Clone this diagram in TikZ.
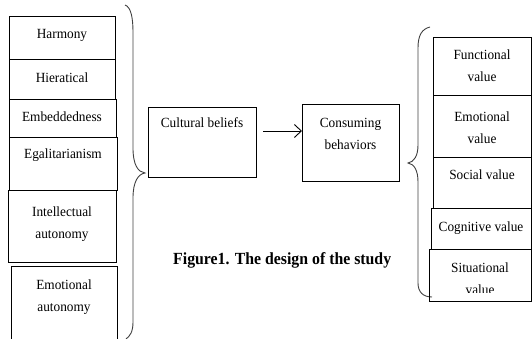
\documentclass[tikz,border=0pt]{standalone}
\usepackage{fontspec}
\setmainfont{Liberation Serif}[FakeStretch=0.95]
\newfontfamily\capfont{Liberation Serif}[FakeStretch=0.93]
\usetikzlibrary{arrows.meta}
\tikzset{
  box/.style={draw=black, line width=0.9pt, inner sep=0pt, anchor=north west},
  txt/.style={inner sep=0pt, align=center, font=\fontsize{14}{22}\selectfont},
  brace/.style={draw=black!75, line width=0.9pt},
  arr/.style={draw=black, line width=0.9pt, -{Straight Barb[length=7pt,width=13pt,line width=0.9pt]}}
}
\begin{document}
\begin{tikzpicture}[x=1pt,y=-1pt]
\useasboundingbox (0,0) rectangle (532,339);
\clip (0,0) rectangle (532,339);
% left boxes
\node[box, minimum width=106pt, minimum height=43pt] (b1) at (9,16) {};
\node[box, minimum width=106pt, minimum height=40pt] (b2) at (9,59) {};
\node[box, minimum width=107pt, minimum height=38pt] (b3) at (9,99) {};
\node[box, minimum width=108pt, minimum height=53pt] (b4) at (9,137) {};
\node[box, minimum width=108pt, minimum height=72pt] (b5) at (8,190) {};
\draw[line width=0.9pt] (11,345) coordinate (b6sw) -- (11,266) coordinate (b6nw) -- (117,266) coordinate (b6ne) -- (117,345) coordinate (b6se);
\node[txt] (t1) at (62,35) {Harmony};
\node[txt] (t2) at (62,78) {Hieratical};
\node[txt] (t3) at (62,117) {Embeddedness};
\node[txt] (t4) at (63,155) {Egalitarianism};
\node[txt, anchor=north] (t5) at (62,207) {Intellectual\\autonomy};
\node[txt, anchor=north] (t6) at (64,280) {Emotional\\autonomy};
% left brace
\draw[brace] (125,5) .. controls (131,7) and (133,18) .. (133,32) -- (133,148)
  .. controls (133,165) and (138,172) .. (145,173)
  .. controls (138,174) and (133,182) .. (133,198) -- (133,322)
  .. controls (133,332) and (130,336) .. (126,339);
% middle
\node[box, minimum width=108pt, minimum height=70pt] (cb) at (148,107) {};
\node[txt] (cbt) at (202,123) {Cultural beliefs};
\node[box, minimum width=97pt, minimum height=77pt] (cons) at (302,104) {};
\node[txt, anchor=north] (const) at (350.5,118) {Consuming\\behaviors};
\coordinate (as) at (263,131);
\draw[arr] (as) -- (cons.west |- as);
% right brace
\draw[brace] (430,27) .. controls (422,29) and (418,35) .. (418,48) -- (418,145)
  .. controls (418,156) and (414,162) .. (408,163)
  .. controls (414,164) and (418,170) .. (418,182) -- (418,283)
  .. controls (418,292) and (423,297) .. (432,297);
% right boxes
\node[box, minimum width=98pt, minimum height=58pt] (r1) at (433,37) {};
\node[box, minimum width=98pt, minimum height=62pt] (r2) at (433,95) {};
\node[box, minimum width=98pt, minimum height=51pt] (r3) at (433,157) {};
\node[box, minimum width=100pt, minimum height=41pt] (r4) at (431,208) {};
\node[box, minimum width=102pt, minimum height=52pt] (r5) at (429,249) {};
\node[txt, anchor=north] (rt1) at (482,50) {Functional\\value};
\node[txt, anchor=north] (rt2) at (482,112) {Emotional\\value};
\node[txt] (rt3) at (482,175) {Social value};
\node[txt] (rt4) at (481,228) {Cognitive value};
\begin{scope}
\clip (429,249) rectangle (531,292.5);
\node[txt, anchor=north] (rt5) at (480,263) {Situational\\value};
\end{scope}
% caption
\node[anchor=base west, inner sep=0pt, font=\capfont\bfseries\fontsize{17}{20}\selectfont] (cap) at (173,264) {Figure1. The design of the study};
\end{tikzpicture}
\end{document}
